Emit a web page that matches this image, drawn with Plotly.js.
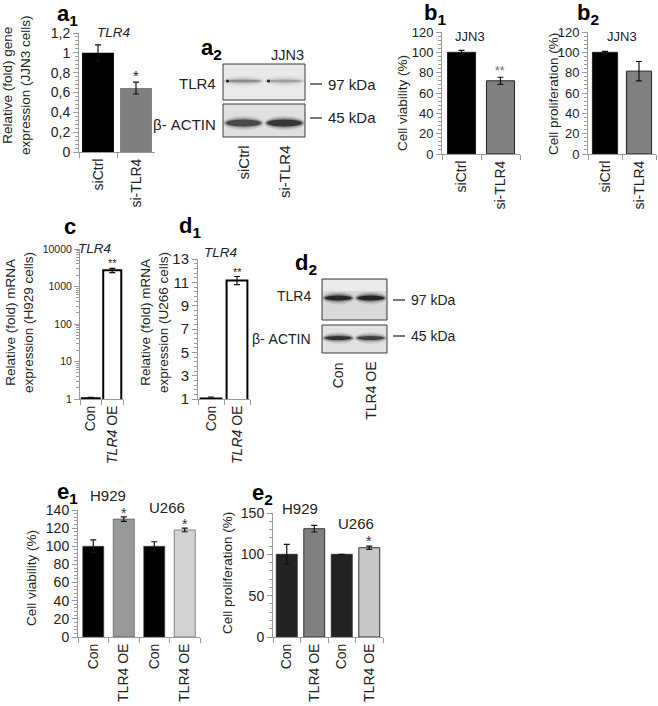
<!DOCTYPE html>
<html><head><meta charset="utf-8">
<script src="https://cdn.plot.ly/plotly-3.0.1.min.js"></script>
<style>html,body{margin:0;padding:0;background:#fff}</style>
</head><body><div id="chart" style="width:658px;height:706px"></div>
<script>
// ---------------- data ----------------
const a1Categories = ["siCtrl", "si-TLR4"];
const a1Values = [1.0, 0.645];
const a1Errors = [0.08, 0.06];
const a1Stars = ["", "*"];
const a1TickText = ["0", "0,2", "0,4", "0,6", "0,8", "1", "1,2"];

const bCategories = ["siCtrl", "si-TLR4"];
const b1Values = [100, 72];
const b1Errors = [2, 3.5];
const b1Stars = ["", "**"];
const b2Values = [100, 81.5];
const b2Errors = [1, 9.5];

const cdCategories = ["Con", "<i>TLR4</i> OE"];
const cValues = [1.05, 2700];
const cErrors = [0.05, 350];
const cStars = ["", "**"];
const cTickText = ["1", "10", "100", "1000", "10000"];
const d1Values = [1.05, 11.15];
const d1Errors = [0.12, 0.35];
const d1Stars = ["", "**"];

const eCategories = ["Con", "TLR4 OE", "Con", "TLR4 OE"];
const eCellLines = ["H929", "U266"];
const e1Values = [100, 130, 100, 118];
const e1Errors = [7, 2.5, 5, 2];
const e1Stars = ["", "*", "", "*"];
const e2Values = [100, 131, 100, 108];
const e2Errors = [12, 4, 0, 2];
const e2Stars = ["", "", "", "*"];

const a2Lanes = ["siCtrl", "si-TLR4"];
const d2Lanes = ["Con", "TLR4 OE"];
const blotRows = ["TLR4", "β- ACTIN"];
const blotMarkers = ["97 kDa", "45 kDa"];
const a2Density = [[0.3, 0.22], [0.62, 0.75]];
const d2Density = [[0.85, 0.88], [0.78, 0.68]];

// ---------------- helpers ----------------
const W = 658, H = 706;
const fx = p => p / W;
const fy = p => 1 - p / H;
const FONT = "Liberation Sans, Arial, Helvetica, sans-serif";
const AX = "#9a9a9a";
const TXT = "#222";
// make repeated category names unique without changing their look
const uniq = arr => arr.map((c, i) => c + "\u200b".repeat(arr.slice(0, i).filter(v => v === c).length));
const e1Cats = uniq(eCategories);

function yAxis(top, bottom, anchor, extra) {
  return Object.assign({
    domain: [fy(bottom), fy(top)], anchor: anchor, showline: true, linecolor: AX, linewidth: 1,
    ticks: "outside", ticklen: 5, tickcolor: AX, showgrid: false, zeroline: false,
    tickfont: {family: FONT, size: 14, color: TXT}, fixedrange: true
  }, extra);
}
function xAxis(left, right, anchor, extra) {
  return Object.assign({
    domain: [fx(left), fx(right)], anchor: anchor, type: "category", showline: true, linecolor: AX,
    linewidth: 1, ticks: "outside", tickson: "boundaries", ticklen: 5, tickcolor: AX, tickangle: -90,
    showgrid: false, zeroline: false, tickfont: {family: FONT, size: 14, color: TXT}, fixedrange: true
  }, extra);
}

const traces = [];
function bars(cats, vals, errs, colors, lineColor, lineWidth, wFrac, xa, ya) {
  traces.push({
    type: "bar", x: cats, y: vals, width: wFrac, xaxis: xa, yaxis: ya,
    marker: {color: colors, line: {color: lineColor, width: lineWidth}},
    error_y: {type: "data", array: errs, visible: true, color: "#111", thickness: 1.2, width: 3},
    hoverinfo: "skip", showlegend: false, cliponaxis: false
  });
}

const ann = [];
function txt(t, x, y, size, opts) {
  ann.push(Object.assign({text: t, x: fx(x), y: fy(y), xref: "paper", yref: "paper", showarrow: false,
    xanchor: "center", yanchor: "middle", font: {family: FONT, size: size, color: TXT}}, opts || {}));
}
function stars(cats, vals, errs, marks, xr, yr, isLog, size, shift, color) {
  marks.forEach((m, i) => {
    if (!m) return;
    const top = vals[i] + errs[i];
    ann.push({text: m, xref: xr, yref: yr, x: cats[i], y: isLog ? Math.log10(top) : top,
      showarrow: false, yanchor: "bottom", yshift: shift,
      font: {family: FONT, size: size, color: color || TXT}});
  });
}

// ---------------- bars ----------------
bars(a1Categories, a1Values, a1Errors, ["#000", "#7f7f7f"], "#000", 0, 0.84, "x", "y");
bars(bCategories, b1Values, b1Errors, ["#000", "#808080"], "#222", 1, 0.72, "x2", "y2");
bars(bCategories, b2Values, b2Errors, ["#000", "#808080"], "#222", 1, 0.74, "x3", "y3");
bars(cdCategories, cValues, cErrors, ["#fff", "#fff"], "#000", 2, 0.84, "x4", "y4");
bars(cdCategories, d1Values, d1Errors, ["#fff", "#fff"], "#000", 2, 0.8, "x5", "y5");
bars(e1Cats, e1Values, e1Errors, ["#000", "#999", "#000", "#d2d2d2"], "#444", 0.6, 0.69, "x6", "y6");
bars(e1Cats, e2Values, e2Errors, ["#222", "#808080", "#222", "#c8c8c8"], "#333", 1, 0.76, "x7", "y7");

// ---------------- axes ----------------
const layout = {
  width: W, height: H, margin: {l: 0, r: 0, t: 0, b: 0}, paper_bgcolor: "#fff",
  plot_bgcolor: "rgba(0,0,0,0)", showlegend: false, font: {family: FONT, color: TXT},
  xaxis: xAxis(79, 155, "y"),
  yaxis: yAxis(33, 152, "x", {range: [0, 1.2], tickmode: "array",
    tickvals: a1TickText.map(t => parseFloat(t.replace(",", "."))), ticktext: a1TickText,
    minor: {ticks: "outside", ticklen: 3, tickcolor: AX, dtick: 0.04, tick0: 0}}),
  xaxis2: xAxis(442, 520, "y2"),
  yaxis2: yAxis(32, 154, "x2", {range: [0, 120], dtick: 20, tickfont: {family: FONT, size: 13, color: TXT},
    minor: {ticks: "outside", ticklen: 3, tickcolor: AX, dtick: 4, tick0: 0}}),
  xaxis3: xAxis(588, 656, "y3"),
  yaxis3: yAxis(32, 154, "x3", {range: [0, 120], dtick: 20, tickfont: {family: FONT, size: 13, color: TXT},
    minor: {ticks: "outside", ticklen: 3, tickcolor: AX, dtick: 4, tick0: 0}}),
  xaxis4: xAxis(80, 123, "y4"),
  yaxis4: yAxis(249, 399, "x4", {type: "log", range: [0, 4], tickmode: "array",
    tickvals: cTickText.map(Number), ticktext: cTickText, tickfont: {family: FONT, size: 10.5, color: TXT},
    minor: {ticks: "outside", ticklen: 3, tickcolor: AX, dtick: "D1"}}),
  xaxis5: xAxis(198, 250, "y5"),
  yaxis5: yAxis(259, 399, "x5", {range: [1, 13], dtick: 2, tick0: 1,
    tickfont: {family: FONT, size: 15, color: TXT},
    minor: {ticks: "outside", ticklen: 3, tickcolor: AX, dtick: 0.4, tick0: 1}}),
  xaxis6: xAxis(78, 200, "y6"),
  yaxis6: yAxis(510, 637, "x6", {range: [0, 140], dtick: 20,
    minor: {ticks: "outside", ticklen: 3, tickcolor: AX, dtick: 4, tick0: 0}}),
  xaxis7: xAxis(273, 383, "y7"),
  yaxis7: yAxis(513, 637, "x7", {range: [0, 150], dtick: 50,
    minor: {ticks: "outside", ticklen: 3, tickcolor: AX, dtick: 10, tick0: 0}}),
  shapes: [], annotations: ann
};

// ---------------- significance stars ----------------
stars(a1Categories, a1Values, a1Errors, a1Stars, "x", "y", false, 15, -4);
stars(bCategories, b1Values, b1Errors, b1Stars, "x2", "y2", false, 12, -3, "#666");
stars(cdCategories, cValues, cErrors, cStars, "x4", "y4", true, 11, -3);
stars(cdCategories, d1Values, d1Errors, d1Stars, "x5", "y5", false, 11, -3);
stars(e1Cats, e1Values, e1Errors, e1Stars, "x6", "y6", false, 14, -6, "#333");
stars(e1Cats, e2Values, e2Errors, e2Stars, "x7", "y7", false, 14, -5, "#333");

// ---------------- panel letters ----------------
[["a<sub>1</sub>", 55, 15], ["a<sub>2</sub>", 199, 49], ["b<sub>1</sub>", 422, 14], ["b<sub>2</sub>", 575, 14],
 ["c", 62, 226], ["d<sub>1</sub>", 177, 227], ["d<sub>2</sub>", 293, 264], ["e<sub>1</sub>", 55, 493],
 ["e<sub>2</sub>", 250, 494]].forEach(p =>
  txt("<b>" + p[0] + "</b>", p[1], p[2], 22, {xanchor: "left", font: {family: FONT, size: 22, color: "#000"}}));

// ---------------- axis titles ----------------
const rot = {textangle: -90};
txt("Relative (fold) gene<br>expression (JJN3 cells)", 17, 85, 13.5, rot);
txt("Cell viability (%)", 403, 103, 13.5, rot);
txt("Cell proliferation (%)", 553, 94, 13.5, rot);
txt("Relative (fold) mRNA<br>expression (H929 cells)", 19, 323, 13.5, rot);
txt("Relative (fold) mRNA<br>expression (U266 cells)", 154, 323, 13.5, rot);
txt("Cell viability (%)", 31, 578, 13.5, rot);
txt("Cell proliferation (%)", 227, 573, 13.5, rot);

// ---------------- chart titles ----------------
txt("<i>" + blotRows[0] + "</i>", 113, 32, 13.5);
txt("JJN3", 470, 37, 13);
txt("JJN3", 622, 37, 13);
txt("<i>" + blotRows[0] + "</i>", 94, 248, 13.5);
txt("<i>" + blotRows[0] + "</i>", 221, 253, 13.5);
txt(eCellLines[0], 108, 495, 15);
txt(eCellLines[1], 167, 507, 15);
txt(eCellLines[0], 300, 508, 15);
txt(eCellLines[1], 356, 523, 15);

// ---------------- western blots (drawn as shapes) ----------------
function rectPx(x0, y0, x1, y1, style) {
  return Object.assign({type: "rect", xref: "paper", yref: "paper", x0: fx(x0), x1: fx(x1),
    y0: fy(y1), y1: fy(y0), layer: "above"}, style);
}
function ellPx(x0, y0, x1, y1, style) {
  return Object.assign(rectPx(x0, y0, x1, y1, style), {type: "circle"});
}
function blot(spec) {
  const laneW = (spec.right - spec.left) / spec.lanes.length;
  spec.rows.forEach((r, ri) => {
    layout.shapes.push(rectPx(spec.left, r.top, spec.right, r.bottom,
      {fillcolor: r.fill, line: {width: 0}}));
    if (r.smear) layout.shapes.push(rectPx(spec.left + 1, r.top + 1, spec.right - 1, r.top + 12,
      {fillcolor: "rgba(255,255,255,0.45)", line: {width: 0}}));
    spec.density[ri].forEach((d, li) => {
      const x0 = spec.left + li * laneW + 2, x1 = spec.left + (li + 1) * laneW - 2;
      const h = r.bandH / 2;
      [[4, 0.12], [2.5, 0.2], [1.2, 0.35]].forEach(g =>
        layout.shapes.push(ellPx(x0 - g[0] / 2, r.bandY - h - g[0], x1 + g[0] / 2, r.bandY + h + g[0],
          {fillcolor: "rgba(30,30,30," + (d * g[1]) + ")", line: {width: 0}})));
      layout.shapes.push(ellPx(x0 + 1, r.bandY - h, x1 - 1, r.bandY + h,
        {fillcolor: "rgba(25,25,25," + d + ")", line: {width: 0}}));
      if (r.dots) layout.shapes.push(ellPx(x0 + 1, r.bandY - 1.5, x0 + 4, r.bandY + 1.5,
        {fillcolor: "rgba(10,10,10,0.9)", line: {width: 0}}));
    });
    layout.shapes.push(rectPx(spec.left, r.top, spec.right, r.bottom,
      {fillcolor: "rgba(0,0,0,0)", line: {color: "#3a3a3a", width: 1}}));
    // row label, size marker
    txt(blotRows[ri], spec.labelRight, r.labelY, spec.font, {xanchor: "right"});
    layout.shapes.push({type: "line", xref: "paper", yref: "paper", x0: fx(spec.dashX), x1: fx(spec.dashX + 12),
      y0: fy(r.markY), y1: fy(r.markY), line: {color: "#222", width: 1.2}});
    txt(blotMarkers[ri], spec.dashX + 16, r.markY, spec.font, {xanchor: "left"});
  });
  spec.lanes.forEach((l, li) => {
    txt(l, spec.left + (li + 0.5) * laneW, spec.laneTop, spec.font, {textangle: -90, yanchor: "top"});
  });
}
blot({left: 223, right: 305, lanes: a2Lanes, density: a2Density, labelRight: 218, dashX: 310,
  laneTop: 143, font: 15,
  rows: [{top: 64, bottom: 100, bandY: 81, bandH: 3, fill: "#e9e9e9", labelY: 83, markY: 84, dots: true},
         {top: 104, bottom: 137, bandY: 123, bandH: 7, fill: "#e0e0e0", labelY: 124, markY: 118}]});
txt("JJN3", 287, 55, 14.5);
blot({left: 322, right: 387, lanes: d2Lanes, density: d2Density, labelRight: 313, dashX: 393,
  laneTop: 360, font: 14,
  rows: [{top: 279, bottom: 320, bandY: 298, bandH: 5, fill: "#d9d9d9", labelY: 296, markY: 300, smear: true},
         {top: 325, bottom: 353, bandY: 338, bandH: 4, fill: "#e2e2e2", labelY: 339, markY: 336}]});

Plotly.newPlot("chart", traces, layout, {staticPlot: true, displayModeBar: false});
</script>
</body></html>
